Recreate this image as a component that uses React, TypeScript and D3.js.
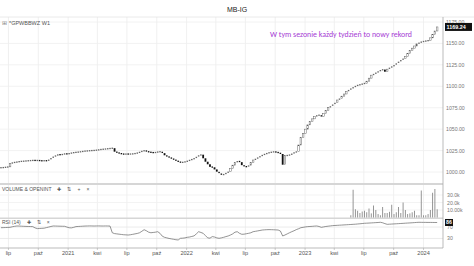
import React from "react";
import * as d3 from "d3";

const closes: number[] = [
  1005.0, 1005.3, 1005.6, 1006.0, 1010.0, 1011.0, 1011.3, 1011.8, 1012.3, 1012.5,
  1012.7, 1013.0, 1013.2, 1013.4, 1013.6, 1013.4, 1013.5, 1013.2, 1013.0, 1013.3,
  1013.0, 1014.5, 1016.5, 1018.0, 1019.3, 1020.4, 1020.0, 1020.8, 1021.3, 1021.0,
  1021.8, 1022.3, 1022.8, 1023.0, 1023.4, 1023.7, 1024.2, 1024.5, 1024.6, 1025.0,
  1025.0, 1025.3, 1025.6, 1026.0, 1026.5, 1026.6, 1027.0, 1027.2, 1027.6, 1027.8,
  1023.7, 1022.5, 1021.8, 1021.0, 1020.8, 1021.0, 1020.9, 1021.0, 1021.2, 1021.8,
  1022.3, 1023.5, 1024.5, 1025.0, 1024.0, 1023.2, 1022.8, 1022.5, 1023.0, 1023.5,
  1023.8, 1022.0, 1019.5, 1018.0, 1017.0, 1015.5, 1014.5, 1013.0, 1012.0, 1011.0,
  1011.5, 1012.0, 1013.0, 1014.0, 1015.0, 1016.0, 1018.0, 1019.5, 1020.2, 1016.0,
  1012.0, 1009.0, 1006.0, 1005.5, 1003.0, 1000.4, 998.5, 996.5, 997.5, 999.0,
  1000.4, 1004.0, 1008.0, 1011.0, 1013.0, 1011.5, 1008.0, 1006.5, 1006.0, 1008.0,
  1011.0, 1014.0, 1015.5, 1017.0, 1018.5, 1020.0, 1021.0, 1022.0, 1022.8, 1023.2,
  1023.7, 1023.0, 1022.5, 1021.0, 1008.5, 1019.0, 1019.5, 1020.0, 1021.5, 1023.0,
  1023.7, 1031.5, 1040.0, 1045.0, 1050.0, 1055.0, 1059.0, 1062.0, 1065.0, 1066.0,
  1066.5, 1064.5, 1068.5, 1072.0, 1075.0, 1077.0, 1079.0, 1081.0, 1084.0, 1086.0,
  1088.5, 1091.0, 1094.0, 1096.0, 1097.5, 1099.0, 1100.5, 1101.5, 1102.0, 1103.0,
  1103.5, 1106.0, 1109.5, 1113.0, 1114.5, 1116.0, 1117.5, 1119.0, 1119.5, 1117.0,
  1120.0, 1122.0, 1123.0, 1125.0, 1127.0, 1129.0, 1130.7, 1132.5, 1135.0, 1138.5,
  1142.0, 1144.5, 1147.0, 1149.5, 1151.0, 1152.0, 1152.5, 1153.0, 1153.5, 1156.5,
  1160.5, 1164.5, 1169.24,
];

const rsi: number[] = [
  67.7, 68, 68.3, 68.6, 69, 71, 72.5, 73.7, 73.5, 73,
  72.6, 72.3, 72, 71.8, 71.5, 67, 64.5, 65, 65.5, 66,
  68, 70, 72, 73.7, 73.5, 73.2, 73, 72.8, 72.6, 70,
  67.5, 67, 69, 71.5, 72, 72.5, 73, 73.5, 73.7, 74,
  73.8, 73.6, 73.8, 74, 73.7, 73.6, 73.8, 73.7, 73.5, 50,
  47, 46, 45, 44, 43, 42.5, 42, 43, 44.5, 46,
  47.5, 50, 55, 60.7, 57, 52, 50, 51, 52, 53.7,
  48, 38, 34, 32, 30, 28.5, 27, 25.5, 24.6, 30.5,
  31, 32, 34, 35, 37, 39, 46, 53.7, 51, 48,
  40, 32, 31, 36.5, 35, 32, 30.5, 32, 34, 36.5,
  38.6, 42, 46, 52, 53.7, 48, 44.6, 45, 46.5, 48,
  50, 53.7, 55, 56.5, 58, 59.5, 60.2, 60.7, 61, 60.8,
  60.5, 60, 59.6, 56, 38.6, 42, 46, 50, 53.7, 57,
  61, 64, 67.7, 69, 70.5, 71.5, 72, 72.5, 73.2, 73.7,
  72, 69, 70.5, 72, 73, 74, 75, 75.5, 76, 76.5,
  77, 77.5, 78, 78.5, 79, 79.5, 80, 80.8, 81.5, 82.3,
  83.2, 83.6, 84, 84.5, 85, 85.5, 86, 86.7, 85, 82,
  79.6, 80, 80.5, 81, 81.5, 82, 82.5, 83, 83.5, 84,
  84.5, 85, 85.6, 86.2, 86.7, 86.5, 86.4, 86.3, 86.2, 86.2,
  86.1, 86, 86,
];

// volume for the last weeks (first volume week index = 154)
const volumeStartWeek = 154;
const volume: number[] = [
  3000, 37000, 11000, 9000, 6000, 8000, 9000, 7000, 12000, 5500,
  16000, 10000, 4600, 3000, 14000, 6000, 6000, 7600, 17000, 4600,
  7000, 14000, 6000, 20000, 10000, 4600, 5500, 7000, 9000, 3000,
  3000, 36000, 3000, 3000, 4600, 10000, 33000, 38000, 11000,
];

const priceTicks: number[] = [1000, 1025, 1050, 1075, 1100, 1125, 1150, 1175];
const volumeTicks: number[] = [10000, 20000, 30000];
const volumeTickLabels: string[] = ["10.00k", "20.0k", "30.0k"];
const rsiTicks: number[] = [30, 70];
const monthNames: Record<number, string> = { 3: "kwi", 6: "lip", 9: "paź" };

const title = "MB-IG";
const symbolLabel = "*GPWBBWZ W1";
const volumePanelLabel = ["VOLUME & OPENINT", "✚", "⇅", "+", "×"];
const rsiPanelLabel = ["RSI (14)", "✚", "⇅", "×"];
const annotation = "W tym sezonie każdy tydzień to nowy rekord";
const lastPriceLabel = "1169.24";
const lastRsiLabel = "86";

const W = 474;
const H = 266;
const plotRight = 443;
const mainTop = 17;
const mainBottom = 183;
const volBottom = 217.5;
const rsiBottom = 248;

const startDate = new Date(2020, 5, 8);
const dates = closes.map((_, i) => d3.timeDay.offset(startDate, 7 * i));

export default function App() {
  const x = d3
    .scaleTime()
    .domain([new Date(2020, 5, 5), new Date(2024, 2, 1)])
    .range([0, plotRight]);
  const y = d3.scaleLinear().domain([1000, 1175]).range([172, 22]);
  const yVol = d3.scaleLinear().domain([0, 40000]).range([217.5, 187.5]);
  const yRsi = d3.scaleLinear().domain([0, 100]).range([247, 218.5]);

  const xTicks = d3.timeMonth.every(3)!.range(new Date(2020, 5, 5), new Date(2024, 2, 1));
  const fmt = (d: Date) =>
    d.getMonth() === 0 ? String(d.getFullYear()) : monthNames[d.getMonth()];

  const rsiLine = d3
    .line<number>()
    .x((_, i) => x(dates[i]))
    .y((v) => yRsi(v));

  const font = "'Liberation Sans', Arial, sans-serif";

  return (
    <svg
      width={W}
      height={H}
      style={{ position: "absolute", left: 0, top: 0, background: "#fff" }}
      fontFamily={font}
    >
      <rect x={0} y={0} width={W} height={H} fill="#fff" />
      <text x={237} y={11.5} textAnchor="middle" fontSize={7} fill="#222">
        {title}
      </text>

      {/* vertical gridlines */}
      {xTicks.map((d, i) => (
        <line
          key={"vg" + i}
          x1={x(d)}
          x2={x(d)}
          y1={mainTop}
          y2={rsiBottom}
          stroke="#ececec"
          strokeWidth={0.8}
        />
      ))}
      {priceTicks.map((t) => (
        <line key={"hg" + t} x1={0} x2={plotRight} y1={y(t)} y2={y(t)} stroke="#efefef" strokeWidth={0.8} />
      ))}
      {volumeTicks.map((t) => (
        <line key={"vgv" + t} x1={0} x2={plotRight} y1={yVol(t)} y2={yVol(t)} stroke="#f0f0f0" strokeWidth={0.8} />
      ))}
      {rsiTicks.map((t) => (
        <line key={"rg" + t} x1={0} x2={plotRight} y1={yRsi(t)} y2={yRsi(t)} stroke="#e6e6e6" strokeWidth={0.8} />
      ))}

      <line x1={0} x2={W} y1={mainTop} y2={mainTop} stroke="#e4e4e4" strokeWidth={0.8} />

      {/* panel separators */}
      <rect x={0} y={mainBottom} width={plotRight} height={2} fill="#d6d6d6" />
      <rect x={0} y={volBottom} width={plotRight} height={1.5} fill="#d6d6d6" />
      <line x1={0} x2={plotRight} y1={rsiBottom} y2={rsiBottom} stroke="#aaa" strokeWidth={0.8} />
      <line x1={plotRight} x2={plotRight} y1={mainTop} y2={rsiBottom} stroke="#aaa" strokeWidth={0.8} />

      {/* labels */}
      <text x={2} y={25} fontSize={5.5} fill="#888">⊞</text>
      <text x={9} y={25} fontSize={5.5} fill="#555">{symbolLabel}</text>
      <text x={2} y={190.5} fontSize={5} fill="#555">
        {volumePanelLabel.map((s, i) => (
          <tspan key={"vl" + i} dx={i === 0 ? 0 : 6}>{s}</tspan>
        ))}
      </text>
      <text x={2} y={224} fontSize={5} fill="#555">
        {rsiPanelLabel.map((s, i) => (
          <tspan key={"rl" + i} dx={i === 0 ? 0 : 6}>{s}</tspan>
        ))}
      </text>

      {/* price candles */}
      {closes.map((c, i) => {
        const o = i === 0 ? c : closes[i - 1];
        const top = y(Math.max(o, c));
        const bot = y(Math.min(o, c));
        const h = bot - top;
        const cx = x(dates[i]);
        if (h < 2) {
          return (
            <rect key={"c" + i} x={cx - 0.75} y={(top + bot) / 2 - 0.65} width={1.5} height={1.3} fill={c < o ? "#111" : "#666"} />
          );
        }
        return c < o ? (
          <rect key={"c" + i} x={cx - 0.9} y={top} width={1.8} height={h} fill="#111" />
        ) : (
          <rect key={"c" + i} x={cx - 0.8} y={top} width={1.6} height={h} fill="#fff" stroke="#555" strokeWidth={0.45} />
        );
      })}

      {/* volume bars */}
      {volume.map((v, k) => {
        const cx = x(dates[volumeStartWeek + k]);
        return (
          <rect key={"v" + k} x={cx - 0.45} y={yVol(v)} width={0.9} height={yVol(0) - yVol(v)} fill="#8a8a8a" />
        );
      })}

      {/* RSI line */}
      <path d={rsiLine(rsi) || ""} fill="none" stroke="#666" strokeWidth={0.7} />

      {/* right axis labels */}
      {priceTicks.map((t) => (
        <text key={"pt" + t} x={446} y={y(t) + 2} fontSize={5.2} fill="#777">
          {t.toFixed(2)}
        </text>
      ))}
      <rect x={445} y={y(closes[closes.length - 1]) - 4} width={27} height={8} fill="#111" />
      <text x={446.5} y={y(closes[closes.length - 1]) + 2} fontSize={5.4} fill="#fff" fontWeight="bold">
        {lastPriceLabel}
      </text>

      {volumeTicks.map((t, i) => (
        <text key={"vt" + t} x={447} y={yVol(t) + 2} fontSize={5.2} fill="#777">
          {volumeTickLabels[i]}
        </text>
      ))}
      {rsiTicks.map((t) => (
        <text key={"rt" + t} x={447} y={yRsi(t) + 2} fontSize={5.2} fill="#777">
          {t}
        </text>
      ))}
      <rect x={445} y={yRsi(rsi[rsi.length - 1]) - 3.5} width={8} height={7} fill="#111" />
      <text x={446} y={yRsi(rsi[rsi.length - 1]) + 2} fontSize={5.2} fill="#fff" fontWeight="bold">
        {lastRsiLabel}
      </text>

      {/* x axis labels */}
      {xTicks.map((d, i) => (
        <g key={"xt" + i}>
          <line x1={x(d)} x2={x(d)} y1={rsiBottom} y2={rsiBottom + 2} stroke="#aaa" strokeWidth={0.6} />
          <text x={x(d)} y={255} textAnchor="middle" fontSize={5.6} fill="#555">
            {fmt(d)}
          </text>
        </g>
      ))}

      {/* annotation */}
      <text
        x={270}
        y={36.5}
        fontSize={7.6}
        fill="#a53ad4"
        fontFamily="Carlito, Calibri, 'Liberation Sans', sans-serif"
        textLength={142}
        lengthAdjust="spacingAndGlyphs"
      >
        {annotation}
      </text>
    </svg>
  );
}
